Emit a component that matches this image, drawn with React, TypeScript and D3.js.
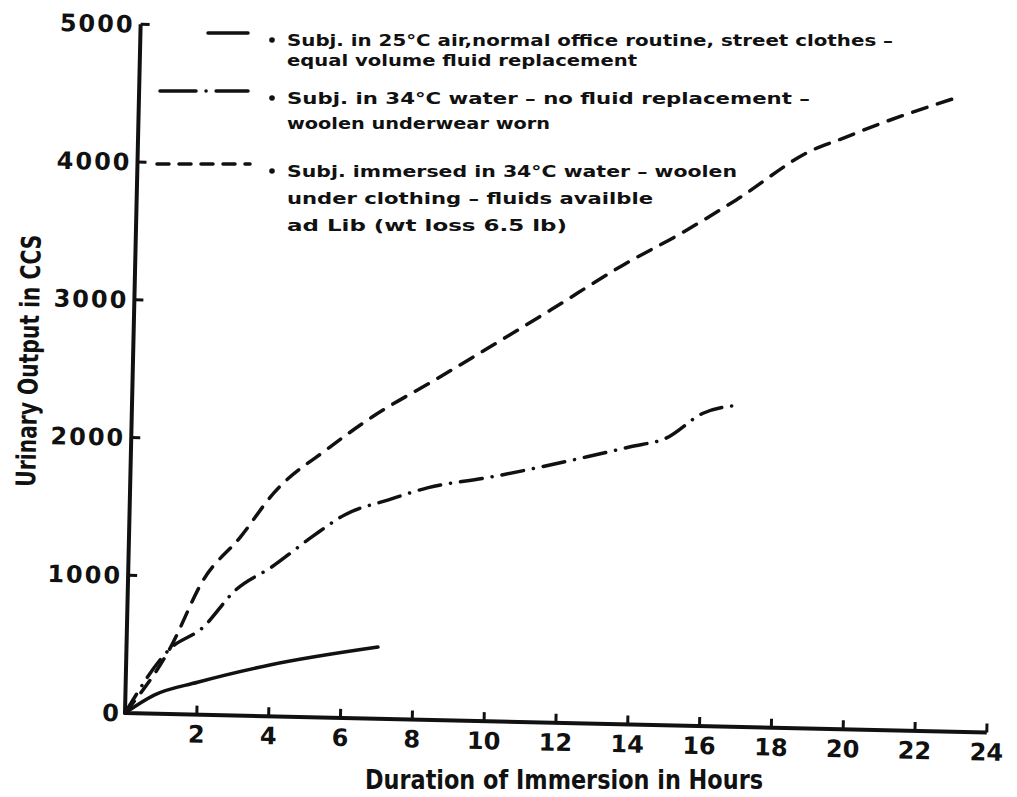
import React from "react";
import * as d3 from "d3";

// tick labels
const hourTicks = [2, 4, 6, 8, 10, 12, 14, 16, 18, 20, 22, 24];
const outputTicks = [0, 1000, 2000, 3000, 4000, 5000];

// Subj. in 25°C air (solid)
const airHours = [0, 0.8, 2, 4, 7];
const airOutput = [0, 135, 235, 372, 520];

// Subj. in 34°C water, no fluid replacement (dash-dot)
const noFluidHours = [0, 1.2, 2.1, 3, 4, 5.1, 6, 7.2, 8.3, 9.9, 12.7, 13.9, 14.9, 15.9, 16.9];
const noFluidOutput = [0, 470, 630, 910, 1085, 1310, 1475, 1590, 1685, 1765, 1935, 2015, 2085, 2270, 2335];

// Subj. immersed, fluids ad lib (dashed)
const adLibHours = [0, 1.2, 2.1, 3.1, 4, 5.5, 6.7, 8.4, 11.6, 13.6, 15.2, 16.7, 18.8, 19.5, 20.7, 22.8];
const adLibOutput = [0, 470, 980, 1295, 1620, 1955, 2190, 2465, 2995, 3335, 3575, 3825, 4200, 4275, 4405, 4605];

const legendLines = [
  ["Subj. in 25°C air,normal office routine, street clothes –", "equal volume fluid replacement"],
  ["Subj. in 34°C water – no fluid replacement –", "woolen underwear worn"],
  ["Subj. immersed in 34°C water – woolen", "under clothing – fluids availble", "ad Lib (wt loss 6.5 lb)"],
];

const ink = "#111";
const font = "'DejaVu Sans', sans-serif";

const DASHED = "15 11";
const DASHDOT = "22 10 0.1 10";

export default function App() {
  const x = d3.scaleLinear().domain([0, 24]).range([125, 987]);
  const y = d3.scaleLinear().domain([0, 5000]).range([713, 24]);
  const line = d3
    .line<[number, number]>()
    .x((d) => x(d[0]))
    .y((d) => y(d[1]))
    .curve(d3.curveMonotoneX);

  const series = [
    { hours: airHours, output: airOutput, dash: undefined },
    { hours: noFluidHours, output: noFluidOutput, dash: DASHDOT },
    { hours: adLibHours, output: adLibOutput, dash: DASHED },
  ];

  // legend layout (page coordinates)
  const legendX = 287;
  const baselines = [[46, 66], [104, 129], [177, 204, 231]];
  const widths = [[606, 350], [523, 263], [450, 366, 280]];
  const samples = [
    { x1: 208, x2: 248, y: 33, dash: undefined },
    { x1: 160, x2: 248, y: 91, dash: "36 10 0.1 10" },
    { x1: 157, x2: 250, y: 164, dash: "12 10" },
  ];

  return (
    <svg
      width={1017}
      height={797}
      style={{ position: "absolute", left: 0, top: 0, background: "#fff" }}
      fontFamily={font}
      fontWeight="bold"
      fill={ink}
    >
      <rect width={1017} height={797} fill="#fff" />
      <g transform={`rotate(1.3, ${x(0)}, ${y(0)})`}>
        {/* axes */}
        <path
          d={`M${x(0)},${y(5000)}V${y(0)}H${x(24)}`}
          fill="none"
          stroke={ink}
          strokeWidth={4}
          strokeLinejoin="round"
        />
        {outputTicks.filter((t) => t > 0).map((t) => (
          <g key={t}>
            <line x1={x(0)} x2={x(0) + 9} y1={y(t)} y2={y(t)} stroke={ink} strokeWidth={3} />
            <text
              x={x(0) - 6}
              y={y(t)}
              dy="0.36em"
              textAnchor="end"
              fontSize={24}
              letterSpacing={2}
            >
              {t}
            </text>
          </g>
        ))}
        <text x={x(0) - 6} y={y(0)} dy="0.36em" textAnchor="end" fontSize={24}>
          0
        </text>
        {hourTicks.map((t) => (
          <g key={t}>
            <line x1={x(t)} x2={x(t)} y1={y(0)} y2={y(0) - 9} stroke={ink} strokeWidth={3} />
            <text x={x(t)} y={741} textAnchor="middle" fontSize={24}>
              {t}
            </text>
          </g>
        ))}
        <text
          transform="translate(30,363) rotate(-90)"
          textAnchor="middle"
          fontSize={27}
          textLength={252}
          lengthAdjust="spacingAndGlyphs"
        >
          Urinary Output in CCS
        </text>

        {/* curves */}
        {series.map((s, i) => (
          <path
            key={i}
            d={line(s.hours.map((h, j) => [h, s.output[j]] as [number, number])) || ""}
            fill="none"
            stroke={ink}
            strokeWidth={3.5}
            strokeLinecap="round"
            strokeDasharray={s.dash}
          />
        ))}
      </g>

      {/* x title */}
      <text
        x={564}
        y={789}
        textAnchor="middle"
        fontSize={27}
        textLength={398}
        lengthAdjust="spacingAndGlyphs"
      >
        Duration of Immersion in Hours
      </text>

      {/* legend */}
      <g>
        {legendLines.map((lines, i) => (
          <g key={i}>
            <line
              x1={samples[i].x1}
              x2={samples[i].x2}
              y1={samples[i].y}
              y2={samples[i].y}
              stroke={ink}
              strokeWidth={3.5}
              strokeLinecap="round"
              strokeDasharray={samples[i].dash}
            />
            <circle cx={legendX - 15} cy={baselines[i][0] - 6} r={2.8} />
            {lines.map((txt, j) => (
              <text
                key={j}
                x={legendX}
                y={baselines[i][j]}
                fontSize={16.5}
                textLength={widths[i][j]}
                lengthAdjust="spacingAndGlyphs"
              >
                {txt}
              </text>
            ))}
          </g>
        ))}
      </g>
    </svg>
  );
}
